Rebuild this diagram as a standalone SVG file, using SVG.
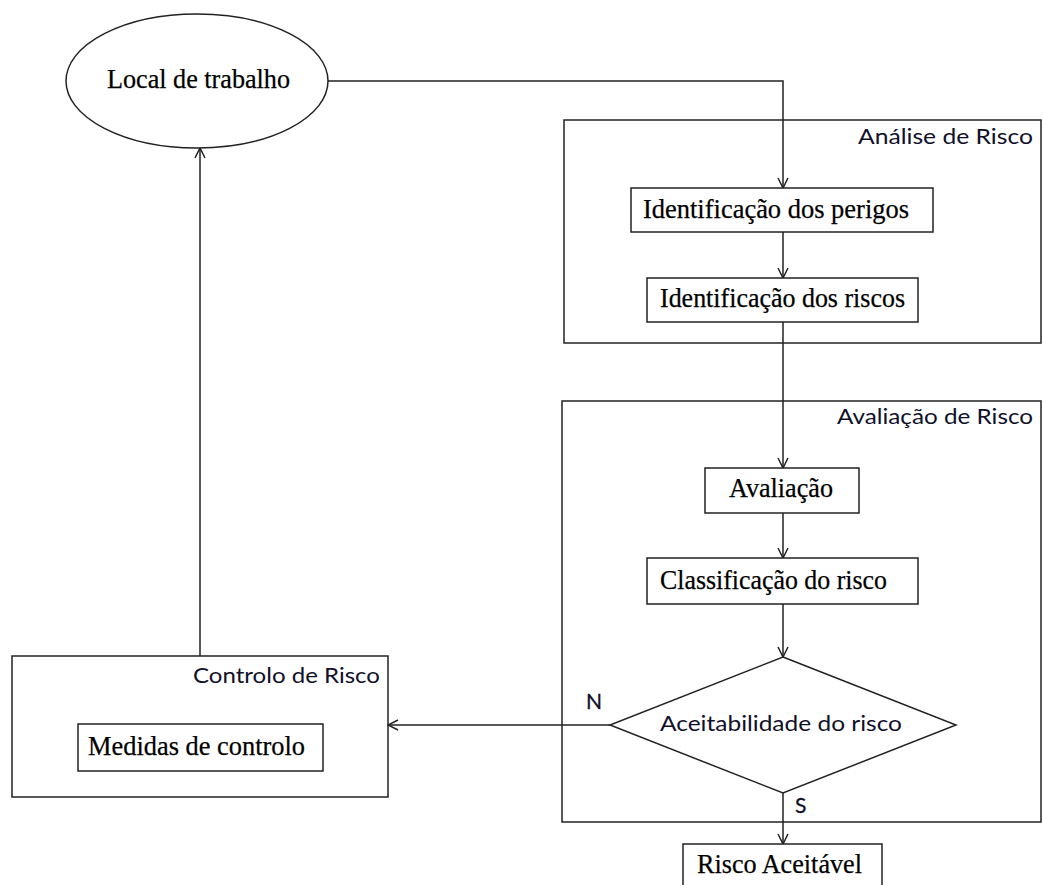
<svg xmlns="http://www.w3.org/2000/svg" width="1043" height="885" viewBox="0 0 1043 885">
<style>
.shape{fill:#fff;stroke:#222;stroke-width:1.5}
.frame{fill:none;stroke:#222;stroke-width:1.5}
.conn{fill:none;stroke:#222;stroke-width:1.5}
.serif{font-family:"Liberation Serif","Times New Roman",serif;font-size:28px;fill:#000;stroke:#000;stroke-width:0.25}
.sans{font-family:Lato,"Open Sans","Liberation Sans",sans-serif;font-size:22px;fill:#10102a}
.yn{font-family:Lato,"Open Sans","Liberation Sans",sans-serif;font-size:21px;fill:#10102a;stroke:#10102a;stroke-width:0.3}
</style>
<defs>
<marker id="arr" viewBox="0 0 12 12" refX="11" refY="6" markerWidth="12" markerHeight="12" markerUnits="userSpaceOnUse" orient="auto">
<polyline points="1,1 11,6 1,11" fill="none" stroke="#222" stroke-width="1.5"/>
</marker>
</defs>
<rect width="1043" height="885" fill="#fff"/>

<g id="analise-risco">
<rect class="frame" x="564" y="120" width="477" height="223"/>
<text class="sans" x="858" y="144" textLength="175" lengthAdjust="spacingAndGlyphs">Análise de Risco</text>
</g>
<g id="avaliacao-risco">
<rect class="frame" x="562" y="401" width="479" height="421"/>
<text class="sans" x="837" y="424" textLength="196" lengthAdjust="spacingAndGlyphs">Avaliação de Risco</text>
</g>
<g id="controlo-risco">
<rect class="frame" x="12" y="656" width="376" height="141"/>
<text class="sans" x="193" y="683" textLength="187" lengthAdjust="spacingAndGlyphs">Controlo de Risco</text>
</g>

<g id="connectors">
<polyline class="conn" points="328,81 783,81 783,188" marker-end="url(#arr)"/>
<line class="conn" x1="783" y1="232" x2="783" y2="278" marker-end="url(#arr)"/>
<line class="conn" x1="783" y1="322" x2="783" y2="468" marker-end="url(#arr)"/>
<line class="conn" x1="783" y1="513" x2="783" y2="558" marker-end="url(#arr)"/>
<line class="conn" x1="783" y1="604" x2="783" y2="657" marker-end="url(#arr)"/>
<line class="conn" x1="783" y1="793" x2="783" y2="844" marker-end="url(#arr)"/>
<line class="conn" x1="610" y1="725" x2="388" y2="725" marker-end="url(#arr)"/>
<line class="conn" x1="200" y1="656" x2="200" y2="148" marker-end="url(#arr)"/>
<text class="yn" x="586" y="709">N</text>
<text class="yn" x="795" y="813">S</text>
</g>

<g id="local-trabalho">
<ellipse class="shape" cx="197" cy="81" rx="131" ry="67"/>
<text class="serif" x="107" y="88" textLength="183" lengthAdjust="spacingAndGlyphs">Local de trabalho</text>
</g>
<g id="identificacao-perigos">
<rect class="shape" x="631" y="188" width="302" height="44"/>
<text class="serif" x="643" y="218" textLength="266" lengthAdjust="spacingAndGlyphs">Identificação dos perigos</text>
</g>
<g id="identificacao-riscos">
<rect class="shape" x="647" y="278" width="271" height="44"/>
<text class="serif" x="660" y="307" textLength="245" lengthAdjust="spacingAndGlyphs">Identificação dos riscos</text>
</g>
<g id="avaliacao">
<rect class="shape" x="705" y="468" width="154" height="45"/>
<text class="serif" x="729" y="497" textLength="104" lengthAdjust="spacingAndGlyphs">Avaliação</text>
</g>
<g id="classificacao">
<rect class="shape" x="647" y="558" width="271" height="46"/>
<text class="serif" x="660" y="589" textLength="227" lengthAdjust="spacingAndGlyphs">Classificação do risco</text>
</g>
<g id="aceitabilidade">
<polygon class="shape" points="783,657 956,725 783,793 610,725"/>
<text class="sans" x="660" y="731" textLength="242" lengthAdjust="spacingAndGlyphs">Aceitabilidade do risco</text>
</g>
<g id="risco-aceitavel">
<rect class="shape" x="683" y="844" width="199" height="50"/>
<text class="serif" x="697" y="873" textLength="165" lengthAdjust="spacingAndGlyphs">Risco Aceitável</text>
</g>
<g id="medidas-controlo">
<rect class="shape" x="78" y="724" width="245" height="47"/>
<text class="serif" x="88" y="755" textLength="217" lengthAdjust="spacingAndGlyphs">Medidas de controlo</text>
</g>
</svg>
